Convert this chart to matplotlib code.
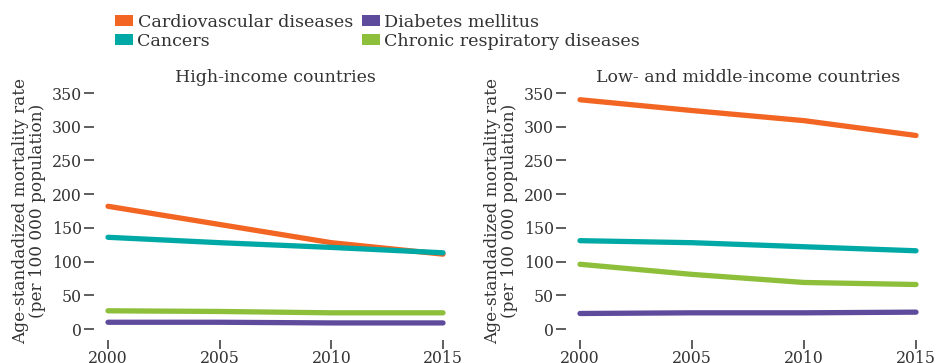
import matplotlib
matplotlib.use("Agg")
import matplotlib.pyplot as plt
from matplotlib.patches import Patch

plt.rcParams['font.family'] = ['DejaVu Serif']
TEXT = '#333333'

years = [2000, 2005, 2010, 2015]
series = ['Cardiovascular diseases', 'Cancers', 'Diabetes mellitus', 'Chronic respiratory diseases']
colors = ['#F26522', '#00A9A5', '#5E4B9C', '#8DBF3A']

high_cvd = [182, 155, 128, 111]
high_cancer = [136, 128, 121, 113]
high_diabetes = [10, 10, 9, 9]
high_resp = [27, 26, 24, 24]

low_cvd = [340, 324, 309, 287]
low_cancer = [131, 128, 122, 116]
low_diabetes = [23, 24, 24, 25]
low_resp = [96, 81, 69, 66]

panel_titles = ['High-income countries', 'Low- and middle-income countries']
yticks = [0, 50, 100, 150, 200, 250, 300, 350]
xticks = [2000, 2005, 2010, 2015]
ylabel = 'Age-standadized mortality rate\n(per 100 000 population)'

W, H = 937, 363
fig = plt.figure(figsize=(W / 100, H / 100), dpi=100)

panels = [
    ([108, 443], [high_cvd, high_cancer, high_diabetes, high_resp]),
    ([580, 916], [low_cvd, low_cancer, low_diabetes, low_resp]),
]

for (xr, data), title in zip(panels, panel_titles):
    x0, x1 = xr
    ax = fig.add_axes([x0 / W, 1 - 329 / H, (x1 - x0) / W, (329 - 93) / H])
    for vals, c in zip(data, colors):
        ax.plot(years, vals, color=c, lw=3.8, solid_capstyle='round', clip_on=False)
    ax.set_xlim(2000, 2015)
    ax.set_ylim(0, 350)
    for s in ax.spines.values():
        s.set_visible(False)
    ax.spines['left'].set_position(('outward', 10))
    ax.spines['bottom'].set_position(('outward', 8))
    ax.set_yticks(yticks)
    ax.set_xticks(xticks)
    ax.tick_params(axis='y', length=7, width=1.1, color=TEXT, labelcolor=TEXT,
                   labelsize=11.3, pad=2)
    ax.tick_params(axis='x', length=6.5, width=1.1, color=TEXT, labelcolor=TEXT,
                   labelsize=11.3, pad=0.5)
    ax.set_title(title, fontsize=12.5, color=TEXT, pad=8)
    ax.set_ylabel(ylabel, fontsize=12.2, color=TEXT, linespacing=1.0, labelpad=4)
    ax.patch.set_visible(False)

handles = [Patch(facecolor=c, edgecolor='none') for c in colors]
fig.legend(handles, series, ncol=2, frameon=False, loc='upper left',
           bbox_to_anchor=(106 / W, 1 - 5 / H), fontsize=12.6,
           handlelength=1.05, handleheight=0.55, handletextpad=0.25,
           columnspacing=0.5, labelspacing=0.12, borderpad=0,
           labelcolor=TEXT)

fig.savefig('out.png', dpi=100)
